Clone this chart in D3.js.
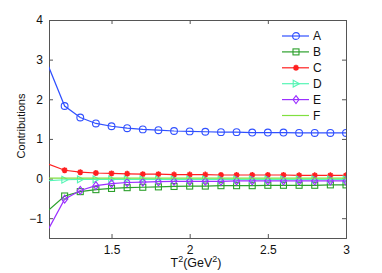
<!DOCTYPE html>
<html>
<head>
<meta charset="utf-8">
<script src="https://cdn.jsdelivr.net/npm/d3@7"></script>
<style>
  body { margin: 0; background: #fff; }
  svg text { font-family: "Liberation Sans", Arial, sans-serif; }
</style>
</head>
<body>
<div id="chart"></div>
<script>
// T^2 values (GeV^2); the first point sits left of the visible axis and is clipped
var tVals = [1.0, 1.1, 1.2, 1.3, 1.4, 1.5, 1.6, 1.7, 1.8, 1.9, 2.0,
             2.1, 2.2, 2.3, 2.4, 2.5, 2.6, 2.7, 2.8, 2.9, 3.0];

var seriesA = [3.77, 2.80, 1.83, 1.54, 1.39, 1.32, 1.27, 1.24, 1.22, 1.20, 1.19,
               1.18, 1.17, 1.17, 1.16, 1.16, 1.16, 1.15, 1.15, 1.15, 1.15];
var seriesB = [-1.14, -0.79, -0.44, -0.33, -0.28, -0.25, -0.23, -0.22, -0.21, -0.20, -0.19,
               -0.19, -0.18, -0.18, -0.18, -0.17, -0.17, -0.17, -0.17, -0.16, -0.16];
var seriesC = [0.51, 0.36, 0.21, 0.16, 0.14, 0.13, 0.12, 0.11, 0.11, 0.10, 0.10,
               0.10, 0.09, 0.09, 0.09, 0.09, 0.09, 0.08, 0.08, 0.08, 0.08];
var seriesD = [-0.08, -0.05, -0.03, -0.02, -0.02, -0.02, -0.02, -0.02, -0.02, -0.02, -0.02,
               -0.02, -0.02, -0.02, -0.02, -0.02, -0.02, -0.02, -0.02, -0.02, -0.02];
var seriesE = [-1.98, -1.25, -0.52, -0.30, -0.18, -0.13, -0.10, -0.09, -0.08, -0.07, -0.07,
               -0.07, -0.07, -0.06, -0.06, -0.06, -0.06, -0.06, -0.06, -0.06, -0.06];
var seriesF = [0.01, 0.01, 0.01, 0.01, 0.01, 0.01, 0.01, 0.01, 0.01, 0.01, 0.01,
               0.01, 0.01, 0.01, 0.01, 0.01, 0.01, 0.01, 0.01, 0.01, 0.01];

var names = ["A", "B", "C", "D", "E", "F"];
var xTicks = [1.5, 2, 2.5, 3];
var yTicks = [-1, 0, 1, 2, 3, 4];

var series = [
  {name: "A", vals: seriesA, color: "#3050ff", marker: "circle"},
  {name: "B", vals: seriesB, color: "#2ca02c", marker: "square"},
  {name: "C", vals: seriesC, color: "#ff2020", marker: "star"},
  {name: "D", vals: seriesD, color: "#55f5b5", marker: "triangle"},
  {name: "E", vals: seriesE, color: "#9b30ff", marker: "diamond"},
  {name: "F", vals: seriesF, color: "#80e040", marker: "none"}
];

var margin = {top: 20, right: 36, bottom: 35, left: 49},
    width = 382 - margin.left - margin.right,
    height = 273 - margin.top - margin.bottom;

var svg = d3.select("#chart").append("svg")
    .attr("width", 382).attr("height", 273)
  .append("g")
    .attr("transform", "translate(" + margin.left + "," + margin.top + ")");

var x = d3.scaleLinear().domain([1.1, 3]).range([0, width]);
var y = d3.scaleLinear().domain([-1.5, 4]).range([height, 0]);

svg.append("clipPath").attr("id", "clip")
  .append("rect").attr("width", width).attr("height", height);

var axisColor = "#555";

// axes with inward ticks, box on all four sides
var gx = svg.append("g").attr("transform", "translate(0," + height + ")")
  .call(d3.axisBottom(x).tickValues(xTicks).tickSize(-4).tickPadding(7).tickFormat(d3.format("")));
var gxt = svg.append("g")
  .call(d3.axisTop(x).tickValues(xTicks).tickSize(-4).tickFormat(""));
var gy = svg.append("g")
  .call(d3.axisLeft(y).tickValues(yTicks).tickSize(-4).tickPadding(6).tickFormat(d3.format("")));
var gyr = svg.append("g").attr("transform", "translate(" + width + ",0)")
  .call(d3.axisRight(y).tickValues(yTicks).tickSize(-4).tickFormat(""));

[gx, gxt, gy, gyr].forEach(function(g) {
  g.select(".domain").attr("stroke", axisColor).attr("stroke-width", 1);
  g.selectAll(".tick line").attr("stroke", axisColor);
  g.selectAll("text").attr("fill", "#111").style("font-size", "12px")
    .style("font-family", "Liberation Sans, Arial, sans-serif");
});

var plot = svg.append("g").attr("clip-path", "url(#clip)");

function drawMarker(g, type, color, cx, cy) {
  if (type === "circle") {
    g.append("circle").attr("cx", cx).attr("cy", cy).attr("r", 3.4)
      .attr("fill", "none").attr("stroke", color).attr("stroke-width", 1.1);
  } else if (type === "square") {
    g.append("rect").attr("x", cx - 3).attr("y", cy - 3).attr("width", 6).attr("height", 6)
      .attr("fill", "none").attr("stroke", color).attr("stroke-width", 1.1);
  } else if (type === "triangle") {
    g.append("path").attr("d", "M" + (cx - 2.8) + "," + (cy - 3.4) + "L" + (cx + 3.4) + "," + cy +
        "L" + (cx - 2.8) + "," + (cy + 3.4) + "Z")
      .attr("fill", "none").attr("stroke", color).attr("stroke-width", 1.1);
  } else if (type === "diamond") {
    g.append("path").attr("d", "M" + cx + "," + (cy - 4) + "L" + (cx + 3) + "," + cy +
        "L" + cx + "," + (cy + 4) + "L" + (cx - 3) + "," + cy + "Z")
      .attr("fill", "none").attr("stroke", color).attr("stroke-width", 1.1);
  } else if (type === "star") {
    var r = 3;
    var p = "";
    for (var k = 0; k < 4; k++) {
      var a = k * Math.PI / 4;
      p += "M" + (cx - r * Math.cos(a)) + "," + (cy - r * Math.sin(a)) +
           "L" + (cx + r * Math.cos(a)) + "," + (cy + r * Math.sin(a));
    }
    g.append("path").attr("d", p).attr("stroke", color).attr("stroke-width", 1.6);
    g.append("circle").attr("cx", cx).attr("cy", cy).attr("r", 1.6).attr("fill", color);
  }
}

var line = d3.line()
  .x(function(d, i) { return x(tVals[i]); })
  .y(function(d) { return y(d); });

series.forEach(function(s) {
  plot.append("path").datum(s.vals)
    .attr("fill", "none").attr("stroke", s.color).attr("stroke-width", 1.2)
    .attr("d", line);
  s.vals.forEach(function(v, i) {
    // no markers drawn at or left of the axis edge
    if (tVals[i] <= x.domain()[0] + 1e-9) return;
    drawMarker(plot, s.marker, s.color, x(tVals[i]), y(v));
  });
});

// legend
var leg = svg.append("g").attr("transform", "translate(" + (282 - margin.left) + "," + (36 - margin.top) + ")");
series.forEach(function(s, i) {
  var row = leg.append("g").attr("transform", "translate(0," + (i * 15.9) + ")");
  row.append("line").attr("x1", 0).attr("x2", 27).attr("y1", 0).attr("y2", 0)
    .attr("stroke", s.color).attr("stroke-width", 1.2);
  drawMarker(row, s.marker, s.color, 14, 0);
  row.append("text").attr("x", 31).attr("y", 0).attr("dy", "0.35em")
    .style("font-size", "12px").attr("fill", "#111").text(names[i]);
});

// axis labels
svg.append("text")
  .attr("transform", "rotate(-90)")
  .attr("x", -126 + margin.top).attr("y", 25 - margin.left)
  .attr("text-anchor", "middle")
  .style("font-size", "11px").attr("fill", "#111")
  .text("Contributions");

var xl = svg.append("text")
  .attr("x", 196 - margin.left).attr("y", 267 - margin.top)
  .attr("text-anchor", "middle")
  .style("font-size", "12.5px").attr("fill", "#111");
xl.append("tspan").text("T");
xl.append("tspan").attr("dy", "-5").style("font-size", "9px").text("2");
xl.append("tspan").attr("dy", "5").text("(GeV");
xl.append("tspan").attr("dy", "-5").style("font-size", "9px").text("2");
xl.append("tspan").attr("dy", "5").text(")");
</script>
</body>
</html>
